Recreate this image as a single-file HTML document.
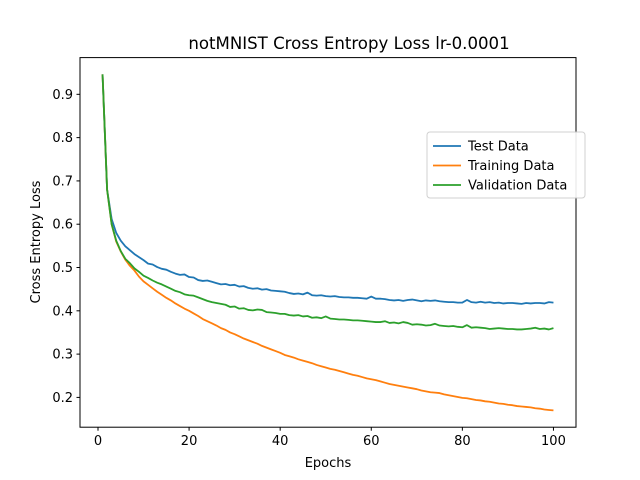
<!DOCTYPE html>
<html><head><meta charset="utf-8"><style>
body{margin:0;background:#fff;}
svg{display:block;font-family:"DejaVu Sans","Liberation Sans",sans-serif;}
</style></head><body>
<svg id="chart" width="640" height="480" viewBox="0 0 640 480">
<rect width="640" height="480" fill="#fff"/>
<text x="349" y="49" text-anchor="middle" font-size="16.6">notMNIST Cross Entropy Loss lr-0.0001</text>
<g id="plot"></g>
<g id="xticks"></g>
<g id="yticks"></g>
<rect x="80" y="57.6" width="496" height="369.6" fill="none" stroke="#000" stroke-width="1"/>
<text x="328" y="467" text-anchor="middle" font-size="13">Epochs</text>
<text transform="translate(40,242) rotate(-90)" text-anchor="middle" font-size="13">Cross Entropy Loss</text>
<g id="legend">
<rect x="427" y="132" width="158" height="66" rx="3" fill="#fff" stroke="#ccc" opacity="0.9"/>
</g>
</svg>
<script>
const testLoss=[0.946,0.68,0.612,0.58,0.562,0.549,0.54,0.531,0.524,0.517,0.509,0.507,0.501,0.497,0.495,0.49,0.486,0.483,0.484,0.478,0.477,0.471,0.469,0.47,0.467,0.464,0.461,0.462,0.459,0.46,0.456,0.457,0.453,0.451,0.452,0.449,0.45,0.447,0.446,0.445,0.444,0.441,0.439,0.44,0.438,0.442,0.436,0.435,0.436,0.434,0.433,0.434,0.432,0.431,0.431,0.43,0.43,0.429,0.428,0.433,0.428,0.428,0.427,0.425,0.424,0.425,0.423,0.425,0.426,0.424,0.422,0.424,0.423,0.424,0.422,0.421,0.42,0.42,0.419,0.419,0.425,0.42,0.419,0.421,0.419,0.42,0.418,0.419,0.417,0.418,0.418,0.417,0.416,0.418,0.417,0.418,0.418,0.417,0.42,0.419];
const trainLoss=[0.946,0.68,0.6,0.56,0.537,0.518,0.504,0.493,0.479,0.468,0.46,0.452,0.444,0.437,0.43,0.424,0.417,0.411,0.405,0.4,0.394,0.388,0.381,0.376,0.371,0.366,0.36,0.356,0.35,0.346,0.341,0.336,0.332,0.328,0.324,0.319,0.315,0.311,0.307,0.303,0.298,0.295,0.292,0.288,0.285,0.282,0.279,0.275,0.272,0.269,0.266,0.264,0.261,0.258,0.255,0.252,0.25,0.247,0.244,0.242,0.24,0.237,0.234,0.231,0.229,0.227,0.225,0.223,0.221,0.219,0.216,0.214,0.212,0.211,0.21,0.207,0.205,0.203,0.201,0.199,0.198,0.196,0.194,0.193,0.191,0.19,0.188,0.186,0.185,0.183,0.182,0.18,0.179,0.178,0.177,0.175,0.174,0.172,0.171,0.17];
const valLoss=[0.946,0.68,0.6,0.562,0.538,0.52,0.51,0.498,0.49,0.481,0.476,0.47,0.465,0.461,0.456,0.451,0.446,0.443,0.438,0.436,0.435,0.431,0.427,0.423,0.42,0.418,0.416,0.414,0.409,0.41,0.405,0.406,0.402,0.401,0.403,0.402,0.397,0.396,0.395,0.393,0.393,0.39,0.389,0.39,0.387,0.388,0.384,0.385,0.383,0.387,0.382,0.381,0.38,0.38,0.379,0.378,0.378,0.377,0.376,0.375,0.374,0.374,0.376,0.372,0.373,0.371,0.374,0.372,0.368,0.369,0.368,0.366,0.367,0.37,0.366,0.365,0.364,0.365,0.363,0.362,0.367,0.361,0.362,0.361,0.36,0.358,0.359,0.36,0.359,0.358,0.358,0.357,0.357,0.358,0.359,0.361,0.358,0.359,0.357,0.36];
const xTicks=[0,20,40,60,80,100];
const yTicks=[0.2,0.3,0.4,0.5,0.6,0.7,0.8,0.9];
const seriesNames=["Test Data","Training Data","Validation Data"];
const seriesColors=["#1f77b4","#ff7f0e","#2ca02c"];

const NS="http://www.w3.org/2000/svg";
const X0=80,X1=576,Y0=57.6,Y1=427.2;
const all=testLoss.concat(trainLoss,valLoss);
const n=testLoss.length;
const xMin=1,xMax=n,xPad=(xMax-xMin)*0.05;
const yMinD=Math.min(...all),yMaxD=Math.max(...all),yPad=(yMaxD-yMinD)*0.05;
function sx(v){return X0+(v-(xMin-xPad))/((xMax+xPad)-(xMin-xPad))*(X1-X0);}
function sy(v){return Y1-(v-(yMinD-yPad))/((yMaxD+yPad)-(yMinD-yPad))*(Y1-Y0);}
function mk(tag,attrs,parent){const e=document.createElementNS(NS,tag);for(const k in attrs)e.setAttribute(k,attrs[k]);parent.appendChild(e);return e;}

const plot=document.getElementById('plot');
[testLoss,trainLoss,valLoss].forEach((arr,i)=>{
  const d=arr.map((v,j)=>(j?'L':'M')+sx(j+1).toFixed(2)+','+sy(v).toFixed(2)).join(' ');
  const p=mk('path',{d:d,fill:'none',stroke:seriesColors[i],'stroke-width':1.8,'stroke-linejoin':'round'},plot);
  
  
});
const xg=document.getElementById('xticks');
xTicks.forEach(t=>{
  const x=sx(t);
  const l=mk('line',{x1:x,x2:x,y1:Y1,y2:Y1+3.5,stroke:'#000'},xg);
  
  
  const tx=mk('text',{x:x,y:Y1+18,'text-anchor':'middle','font-size':13},xg);
  tx.textContent=t;
  
  
});
const yg=document.getElementById('yticks');
yTicks.forEach(t=>{
  const y=sy(t);
  const l=mk('line',{x1:X0-3.5,x2:X0,y1:y,y2:y,stroke:'#000'},yg);
  
  
  const tx=mk('text',{x:X0-7,y:y+4.5,'text-anchor':'end','font-size':13},yg);
  tx.textContent=t.toFixed(1);
  
  
});
const lg=document.getElementById('legend');
seriesNames.forEach((nm,i)=>{
  const y=146+i*19.5;
  const l=mk('line',{x1:433,x2:461,y1:y,y2:y,stroke:seriesColors[i],'stroke-width':1.8},lg);
  
  
  const tx=mk('text',{x:468,y:y+4.5,'font-size':13},lg);
  tx.textContent=nm;
  
  
});
</script>
</body></html>
